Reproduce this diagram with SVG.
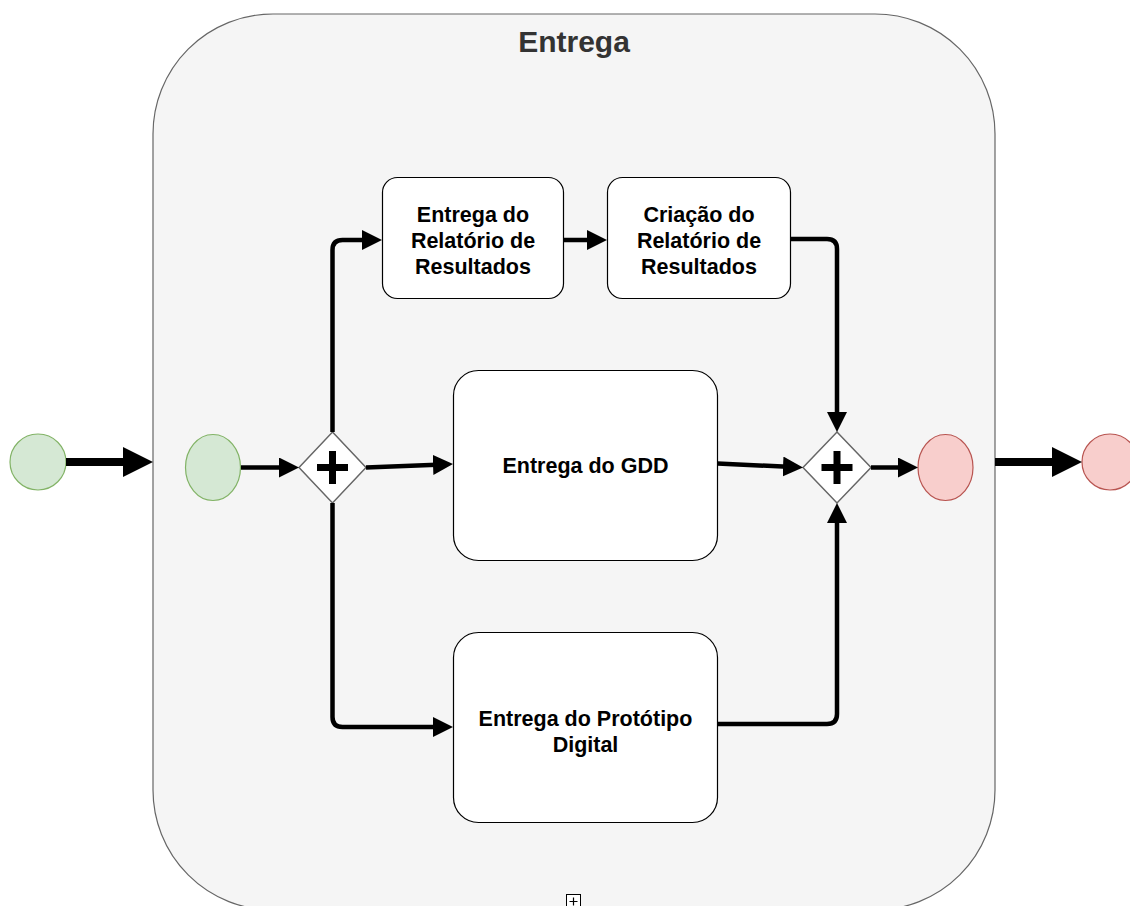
<svg xmlns="http://www.w3.org/2000/svg" width="1130" height="906" viewBox="0 0 1130 906">
  <style>
    .pool { fill: #f5f5f5; stroke: #666666; stroke-width: 1.2; }
    .title { font-family: "Liberation Sans", Arial, sans-serif; font-weight: bold; font-size: 30px; fill: #333333; text-anchor: middle; }
    .task { fill: #ffffff; stroke: #000000; stroke-width: 1.2; }
    .label { font-family: "Liberation Sans", Arial, sans-serif; font-weight: bold; font-size: 21.5px; fill: #000000; text-anchor: middle; }
    .start { fill: #d5e8d4; stroke: #82b366; stroke-width: 1.2; }
    .end { fill: #f8cecc; stroke: #b85450; stroke-width: 1.2; }
    .gw { fill: #ffffff; stroke: #666666; stroke-width: 1.5; }
    .plus { stroke: #000000; stroke-width: 7; fill: none; }
    .flow { fill: none; stroke: #000000; stroke-width: 4.5; stroke-linejoin: round; marker-end: url(#head); }
    .bigflow { fill: none; stroke: #000000; stroke-width: 8; marker-end: url(#bighead); }
  </style>
  <defs>
    <marker id="head" markerUnits="userSpaceOnUse" markerWidth="22" markerHeight="20" refX="10" refY="10" orient="auto">
      <path d="M0,0 L20,10 L0,20 Z" fill="#000000"/>
    </marker>
    <marker id="bighead" markerUnits="userSpaceOnUse" markerWidth="32" markerHeight="30" refX="15" refY="15" orient="auto">
      <path d="M0,0 L30,15 L0,30 Z" fill="#000000"/>
    </marker>
  </defs>

  <!-- collapsed sub-process container -->
  <g id="subprocess">
    <rect class="pool" x="153" y="14" width="842" height="896" rx="120" ry="120"/>
    <text class="title" x="574" y="52">Entrega</text>
    <rect x="566.5" y="894.5" width="14" height="14" fill="#ffffff" stroke="#000000" stroke-width="1"/>
    <path d="M569.5,901.5 H577.5 M573.5,897.5 V905.5" stroke="#000000" stroke-width="1.2"/>
  </g>

  <!-- events -->
  <g id="outer-start"><circle class="start" cx="38" cy="462" r="28"/></g>
  <g id="inner-start"><ellipse class="start" cx="213" cy="467.5" rx="27.5" ry="33"/></g>
  <g id="inner-end"><ellipse class="end" cx="945.5" cy="467.5" rx="27.5" ry="33"/></g>
  <g id="outer-end"><circle class="end" cx="1110" cy="462" r="28"/></g>

  <!-- parallel gateways -->
  <g id="split">
    <path class="gw" d="M332.5,432 L366,467.5 L332.5,503 L299,467.5 Z"/>
    <path class="plus" d="M317,467.5 H348 M332.5,451 V484"/>
  </g>
  <g id="join">
    <path class="gw" d="M837,432 L871,467.5 L837,503 L803,467.5 Z"/>
    <path class="plus" d="M821.5,467.5 H852.5 M837,451 V484"/>
  </g>

  <!-- tasks -->
  <g id="task-entrega-relatorio">
    <rect class="task" x="382.5" y="177.5" width="181" height="121" rx="15" ry="15"/>
    <text class="label" x="473" y="222">Entrega do</text>
    <text class="label" x="473" y="248">Relatório de</text>
    <text class="label" x="473" y="274">Resultados</text>
  </g>
  <g id="task-criacao-relatorio">
    <rect class="task" x="607.5" y="177.5" width="183" height="121" rx="15" ry="15"/>
    <text class="label" x="699" y="222">Criação do</text>
    <text class="label" x="699" y="248">Relatório de</text>
    <text class="label" x="699" y="274">Resultados</text>
  </g>
  <g id="task-gdd">
    <rect class="task" x="453.5" y="370.5" width="264" height="190" rx="25" ry="25"/>
    <text class="label" x="585.5" y="473">Entrega do GDD</text>
  </g>
  <g id="task-prototipo">
    <rect class="task" x="453.5" y="632.5" width="264" height="190" rx="25" ry="25"/>
    <text class="label" x="585.5" y="726">Entrega do Protótipo</text>
    <text class="label" x="585.5" y="752">Digital</text>
  </g>

  <!-- sequence flows -->
  <g id="connectors">
    <path class="bigflow" d="M66,462 L138,462"/>
    <path class="flow" d="M241,467.5 L289,467.5"/>
    <path class="flow" d="M332.5,432 V250 Q332.5,240 342.5,240 H372"/>
    <path class="flow" d="M366,467.5 L443,464.5"/>
    <path class="flow" d="M332.5,503 V717 Q332.5,727 342.5,727 H443"/>
    <path class="flow" d="M563.5,240 H597"/>
    <path class="flow" d="M790.5,239 H827 Q837,239 837,249 V422"/>
    <path class="flow" d="M717.5,463.5 L793,467"/>
    <path class="flow" d="M717.5,724 H827 Q837,724 837,714 V513"/>
    <path class="flow" d="M871,467.5 H908"/>
    <path class="bigflow" d="M995,462 L1067,462"/>
  </g>
</svg>
